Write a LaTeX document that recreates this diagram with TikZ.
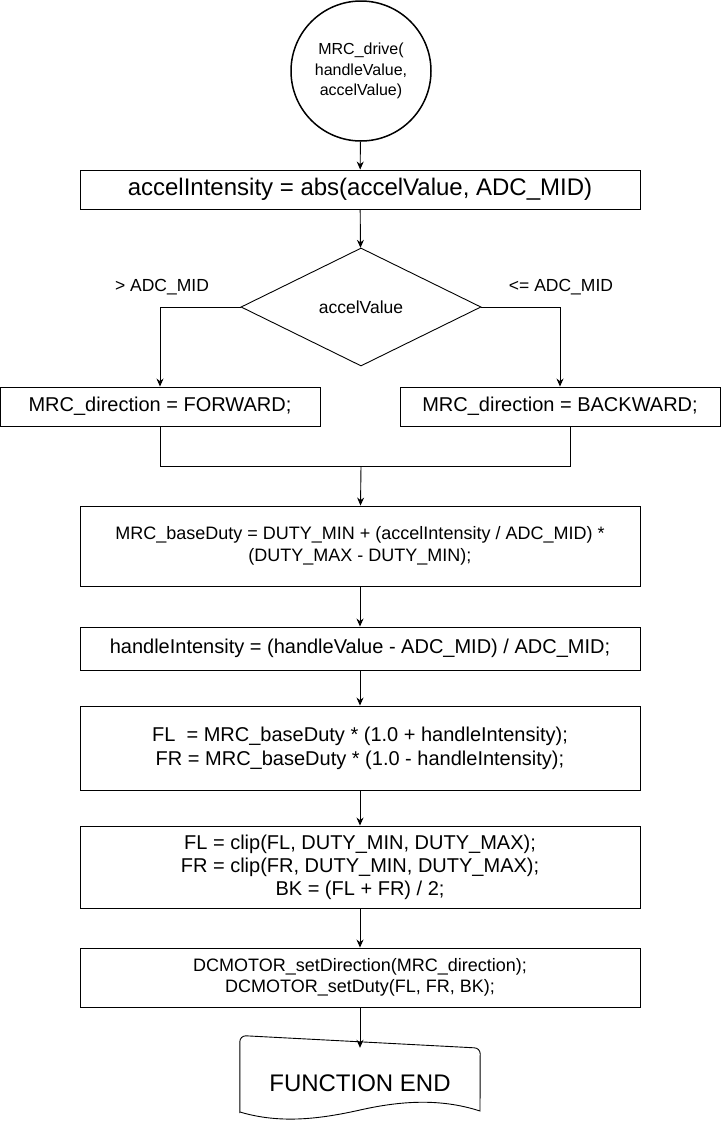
\documentclass[tikz,border=0pt]{standalone}
\usepackage{fontspec}
\setmainfont{Liberation Sans}
\usetikzlibrary{shapes.geometric,arrows.meta}
\begin{document}
\begin{tikzpicture}[x=1pt,y=-1pt,
  box/.style={draw, rectangle, line width=0.9pt, inner sep=0pt, align=center, minimum width=560pt},
  arr/.style={-{Stealth[length=8pt,width=7pt]}, line width=0.9pt},
  ln/.style={line width=0.9pt},
  fA/.style={font=\fontsize{24}{28}\selectfont},
  fB/.style={font=\fontsize{20}{24}\selectfont},
  fC/.style={font=\fontsize{17.5}{22}\selectfont},
  fD/.style={font=\fontsize{18}{22.5}\selectfont}
]
\useasboundingbox (0,0) rectangle (721,1122);
\node[draw, circle, line width=1.5pt, minimum size=140pt, inner sep=0pt, align=center, font=\fontsize{16}{20.5}\selectfont] (start) at (361,71) {MRC\_drive(\\handleValue,\\accelValue)};
\node[box, fA, minimum height=39pt] (b1) at (360,189.5) {accelIntensity = abs(accelValue, ADC\_MID)};
\node[draw, diamond, line width=0.9pt, minimum width=240pt, minimum height=118pt, inner sep=0pt, fC] (dec) at (361,307) {accelValue};
\node[box, fB, minimum width=320pt, minimum height=39pt] (lb) at (160,406.5) {MRC\_direction = FORWARD;};
\node[box, fB, minimum width=320pt, minimum height=39pt] (rb) at (560,406.5) {MRC\_direction = BACKWARD;};
\node[fC] (ll) at (162,287) {> ADC\_MID};
\node[fC] (rl) at (561,287) {<= ADC\_MID};
\coordinate (m) at (361,466);
\node[box, fD, minimum height=80pt] (b3) at (360,546) {MRC\_baseDuty = DUTY\_MIN + (accelIntensity / ADC\_MID) *\\(DUTY\_MAX - DUTY\_MIN);};
\node[box, fB, minimum height=43pt] (b4) at (360,648.5) {handleIntensity = (handleValue - ADC\_MID) / ADC\_MID;};
\node[box, fB, minimum height=84pt] (b5) at (360,748) {FL~ = MRC\_baseDuty * (1.0 + handleIntensity);\\FR = MRC\_baseDuty * (1.0 - handleIntensity);};
\node[box, font=\fontsize{20}{23}\selectfont, minimum height=82pt] (b6) at (360,867) {FL = clip(FL, DUTY\_MIN, DUTY\_MAX);\\FR = clip(FR, DUTY\_MIN, DUTY\_MAX);\\BK = (FL + FR) / 2;};
\node[box, font=\fontsize{18}{21.5}\selectfont, minimum height=59pt] (b7) at (360,977.5) {DCMOTOR\_setDirection(MRC\_direction);\\DCMOTOR\_setDuty(FL, FR, BK);};
\node[rectangle, inner sep=0pt, minimum width=240pt, minimum height=70pt, fA] (endn) at (360,1083) {FUNCTION END};
\draw[line width=0.9pt] (endn.south west) ++(0,-6) -- ([yshift=6pt]endn.north west) arc[start angle=180, end angle=90, radius=6pt] -- ([xshift=-6pt]endn.north east) arc[start angle=90, end angle=0, radius=6pt] -- (480,1111) .. controls (440,1098) and (400,1101) .. (360,1110) .. controls (320,1119) and (280,1124) .. (240,1112) -- cycle;
\draw[arr] (start) -- (b1);
\draw[arr] (b1) -- (dec);
\draw[arr] (dec.west) -| (lb.north);
\draw[arr] (dec.east) -| (rb.north);
\draw[ln] (lb.south) |- (m);
\draw[ln] ([xshift=10pt]rb.south) |- (m);
\draw[arr] (m) -- (b3);
\draw[arr] (b3) -- (b4);
\draw[arr] (b4) -- (b5);
\draw[arr] (b5) -- (b6);
\draw[arr] (b6) -- (b7);
\draw[arr] (b7) -- (endn.north);
\end{tikzpicture}
\end{document}
